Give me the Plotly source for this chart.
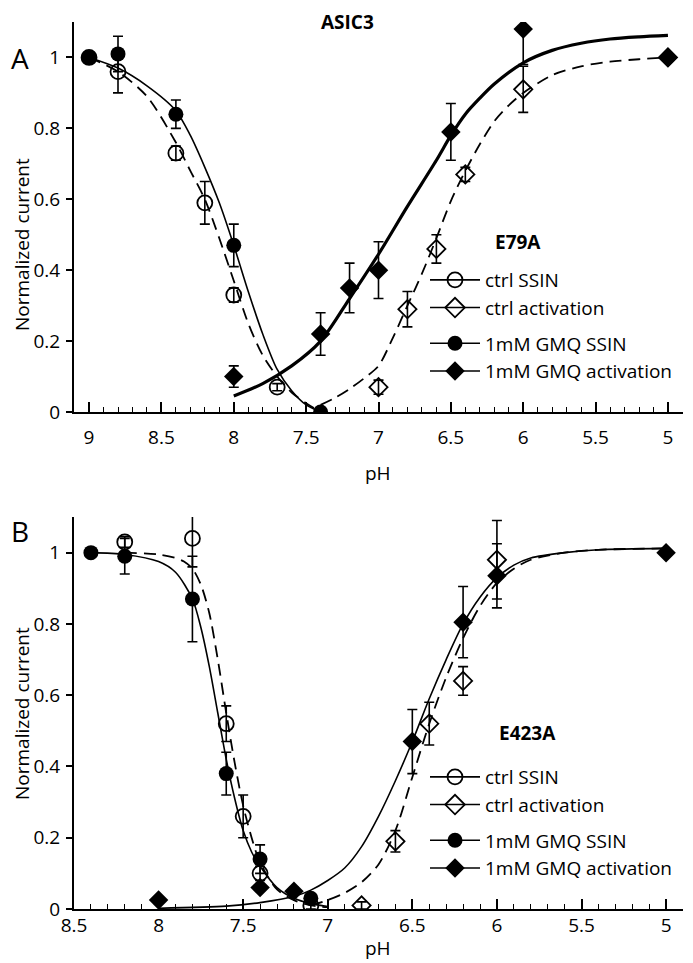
import plotly.graph_objects as go

# ---------------- Panel A : E79A ----------------
a_ctrl_ssin_ph = [9.0, 8.8, 8.4, 8.2, 8.0, 7.7]
a_ctrl_ssin_v = [1.0, 0.96, 0.73, 0.59, 0.33, 0.07]
a_ctrl_ssin_err = [0.0, 0.06, 0.02, 0.06, 0.02, 0.01]

a_ctrl_act_ph = [7.0, 6.8, 6.6, 6.4, 6.0, 5.0]
a_ctrl_act_v = [0.07, 0.29, 0.46, 0.67, 0.91, 1.0]
a_ctrl_act_err = [0.02, 0.05, 0.04, 0.02, 0.065, 0.0]

a_gmq_ssin_ph = [9.0, 8.8, 8.4, 8.0, 7.4]
a_gmq_ssin_v = [1.0, 1.01, 0.84, 0.47, 0.0]
a_gmq_ssin_err = [0.0, 0.05, 0.04, 0.06, 0.0]

a_gmq_act_ph = [8.0, 7.4, 7.2, 7.0, 6.5, 6.0, 5.0]
a_gmq_act_v = [0.10, 0.22, 0.35, 0.40, 0.79, 1.08, 1.0]
a_gmq_act_err = [0.03, 0.06, 0.07, 0.08, 0.08, 0.10, 0.0]

# fitted curves
a_fit_gmq_ssin_ph = [9.0, 8.8, 8.6, 8.4, 8.3, 8.2, 8.1, 8.0, 7.9, 7.8, 7.7, 7.6, 7.5, 7.4]
a_fit_gmq_ssin_v = [1.0, 0.97, 0.92, 0.85, 0.78, 0.69, 0.59, 0.47, 0.34, 0.22, 0.12, 0.06, 0.02, 0.0]

a_fit_ctrl_ssin_ph = [9.0, 8.8, 8.6, 8.4, 8.3, 8.2, 8.1, 8.0, 7.9, 7.8, 7.7, 7.6, 7.5, 7.4]
a_fit_ctrl_ssin_v = [1.0, 0.96, 0.89, 0.76, 0.68, 0.60, 0.49, 0.37, 0.25, 0.16, 0.10, 0.055, 0.025, 0.0]

a_fit_gmq_act_ph = [8.0, 7.8, 7.6, 7.4, 7.2, 7.0, 6.8, 6.6, 6.5, 6.4, 6.3, 6.2, 6.0, 5.8, 5.6, 5.4, 5.2, 5.0]
a_fit_gmq_act_v = [0.045, 0.08, 0.13, 0.2, 0.32, 0.445, 0.58, 0.71, 0.78, 0.84, 0.885, 0.925, 0.985, 1.02, 1.04, 1.052, 1.058, 1.062]

a_fit_ctrl_act_ph = [7.4, 7.3, 7.2, 7.1, 7.0, 6.9, 6.8, 6.7, 6.6, 6.5, 6.4, 6.3, 6.2, 6.1, 6.0, 5.8, 5.6, 5.4, 5.2, 5.0]
a_fit_ctrl_act_v = [0.02, 0.04, 0.065, 0.095, 0.13, 0.21, 0.30, 0.39, 0.49, 0.595, 0.68, 0.755, 0.82, 0.865, 0.90, 0.95, 0.975, 0.988, 0.995, 1.0]

# ---------------- Panel B : E423A ----------------
b_ctrl_ssin_ph = [8.2, 7.8, 7.6, 7.5, 7.4, 7.1]
b_ctrl_ssin_v = [1.03, 1.04, 0.52, 0.26, 0.10, 0.01]
b_ctrl_ssin_err = [0.015, 0.08, 0.05, 0.06, 0.02, 0.01]

b_ctrl_act_ph = [6.8, 6.6, 6.4, 6.2, 6.0]
b_ctrl_act_v = [0.01, 0.19, 0.52, 0.64, 0.98]
b_ctrl_act_err = [0.01, 0.03, 0.06, 0.04, 0.11]

b_gmq_ssin_ph = [8.4, 8.2, 7.8, 7.6, 7.4, 7.1]
b_gmq_ssin_v = [1.0, 0.99, 0.87, 0.38, 0.14, 0.03]
b_gmq_ssin_err = [0.0, 0.05, 0.12, 0.06, 0.04, 0.01]

b_gmq_act_ph = [8.0, 7.4, 7.2, 6.5, 6.2, 6.0, 5.0]
b_gmq_act_v = [0.025, 0.06, 0.05, 0.47, 0.805, 0.935, 1.0]
b_gmq_act_err = [0.0, 0.01, 0.01, 0.09, 0.10, 0.09, 0.0]

b_fit_gmq_ssin_ph = [8.4, 8.2, 8.0, 7.9, 7.8, 7.75, 7.7, 7.65, 7.6, 7.55, 7.5, 7.45, 7.4, 7.3, 7.2, 7.1, 7.0]
b_fit_gmq_ssin_v = [1.0, 0.995, 0.975, 0.945, 0.87, 0.79, 0.68, 0.55, 0.42, 0.31, 0.22, 0.16, 0.12, 0.06, 0.03, 0.015, 0.007]

b_fit_ctrl_ssin_ph = [8.2, 8.0, 7.9, 7.85, 7.8, 7.75, 7.7, 7.65, 7.6, 7.55, 7.5, 7.45, 7.4, 7.3, 7.2, 7.1, 7.0]
b_fit_ctrl_ssin_v = [1.0, 0.995, 0.985, 0.975, 0.955, 0.91, 0.83, 0.70, 0.55, 0.41, 0.29, 0.20, 0.13, 0.055, 0.025, 0.01, 0.005]

b_fit_gmq_act_ph = [8.0, 7.6, 7.4, 7.2, 7.1, 7.0, 6.9, 6.8, 6.7, 6.6, 6.5, 6.4, 6.3, 6.2, 6.1, 6.0, 5.9, 5.8, 5.6, 5.4, 5.0]
b_fit_gmq_act_v = [0.002, 0.008, 0.018, 0.035, 0.053, 0.08, 0.115, 0.175, 0.26, 0.36, 0.47, 0.59, 0.70, 0.80, 0.875, 0.93, 0.965, 0.985, 1.0, 1.008, 1.012]

b_fit_ctrl_act_ph = [7.1, 7.0, 6.9, 6.8, 6.7, 6.6, 6.5, 6.4, 6.3, 6.2, 6.1, 6.0, 5.9, 5.8, 5.6, 5.4, 5.0]
b_fit_ctrl_act_v = [0.01, 0.025, 0.045, 0.075, 0.125, 0.22, 0.37, 0.52, 0.65, 0.76, 0.85, 0.915, 0.955, 0.98, 1.0, 1.008, 1.012]

x_tick_vals = [9, 8.5, 8, 7.5, 7, 6.5, 6, 5.5, 5]
x_tick_text = ["9", "8.5", "8", "7.5", "7", "6.5", "6", "5.5", "5"]
y_tick_vals = [0, 0.2, 0.4, 0.6, 0.8, 1.0]
y_tick_text = ["0", "0.2", "0.4", "0.6", "0.8", "1"]

legend_names = ["ctrl SSIN", "ctrl activation", "1mM GMQ SSIN", "1mM GMQ activation"]

FONT = "Open Sans"
BLACK = "black"
DASH = "12px,7px"

fig = go.Figure()


def curve(x, y, xa, ya, width=1.5, dash="solid"):
    fig.add_trace(go.Scatter(x=x, y=y, xaxis=xa, yaxis=ya, mode="lines",
                             line=dict(color=BLACK, width=width, dash=dash, shape="spline", smoothing=0.8),
                             showlegend=False, hoverinfo="skip"))


def points(x, y, err, xa, ya, symbol, size=15):
    open_ = symbol.endswith("open")
    fig.add_trace(go.Scatter(
        x=x, y=y, xaxis=xa, yaxis=ya, mode="markers",
        marker=dict(symbol=symbol, size=size, color=BLACK,
                    line=dict(color=BLACK, width=1.8 if open_ else 0)),
        error_y=dict(type="data", array=err, visible=True, color=BLACK, thickness=1.6, width=5),
        showlegend=False))


# Panel A curves
curve(a_fit_ctrl_ssin_ph, a_fit_ctrl_ssin_v, "x", "y", 1.8, DASH)
curve(a_fit_ctrl_act_ph, a_fit_ctrl_act_v, "x", "y", 1.8, DASH)
curve(a_fit_gmq_ssin_ph, a_fit_gmq_ssin_v, "x", "y", 1.6)
curve(a_fit_gmq_act_ph, a_fit_gmq_act_v, "x", "y", 3.2)
# Panel A points
points(a_ctrl_ssin_ph, a_ctrl_ssin_v, a_ctrl_ssin_err, "x", "y", "circle-open")
points(a_ctrl_act_ph, a_ctrl_act_v, a_ctrl_act_err, "x", "y", "diamond-open", 14)
points(a_gmq_ssin_ph, a_gmq_ssin_v, a_gmq_ssin_err, "x", "y", "circle")
points(a_gmq_act_ph, a_gmq_act_v, a_gmq_act_err, "x", "y", "diamond", 15)

# Panel B curves
curve(b_fit_ctrl_ssin_ph, b_fit_ctrl_ssin_v, "x2", "y2", 1.8, DASH)
curve(b_fit_ctrl_act_ph, b_fit_ctrl_act_v, "x2", "y2", 1.8, DASH)
curve(b_fit_gmq_ssin_ph, b_fit_gmq_ssin_v, "x2", "y2", 1.6)
curve(b_fit_gmq_act_ph, b_fit_gmq_act_v, "x2", "y2", 1.6)
# Panel B points
points(b_ctrl_ssin_ph, b_ctrl_ssin_v, b_ctrl_ssin_err, "x2", "y2", "circle-open")
points(b_ctrl_act_ph, b_ctrl_act_v, b_ctrl_act_err, "x2", "y2", "diamond-open", 14)
points(b_gmq_ssin_ph, b_gmq_ssin_v, b_gmq_ssin_err, "x2", "y2", "circle")
points(b_gmq_act_ph, b_gmq_act_v, b_gmq_act_err, "x2", "y2", "diamond", 15)

# Legend entries (one legend per panel)
legend_symbols = ["circle-open", "diamond-open", "circle", "diamond"]
legend_groups = ["ctrl", "ctrl", "gmq", "gmq"]
for lg in ["legend", "legend2"]:
    for name, sym, grp in zip(legend_names, legend_symbols, legend_groups):
        open_ = sym.endswith("open")
        fig.add_trace(go.Scatter(
            x=[None], y=[None], mode="lines+markers", name=name, legend=lg, legendgroup=grp + lg,
            line=dict(color=BLACK, width=1.6),
            marker=dict(symbol=sym, size=15, color=BLACK,
                        line=dict(color=BLACK, width=1.8 if open_ else 0)),
            showlegend=True))

# layout geometry: page pixel coordinates (the page body adds an 8px offset)
OFF = 8
W, H = 693 - OFF, 963 - OFF
AX_L, AX_R, AX_BOT = 74, 683, 909
L = AX_L - OFF
R = W - (AX_R - OFF)
T = 22 - OFF
B = H - (AX_BOT - OFF)
PW, PH = W - L - R, H - T - B


def px_x(px):
    return (px - OFF - L) / PW


def px_y(py):
    return (H - B - (py - OFF)) / PH


xaxis_common = dict(
    tickvals=x_tick_vals, ticktext=x_tick_text, ticks="inside", ticklen=10, tickwidth=1.6,
    tickcolor=BLACK, showline=True, linewidth=2, linecolor=BLACK, showgrid=False, zeroline=False,
    tickfont=dict(family=FONT, size=19, color=BLACK),
    minor=dict(tickmode="linear", tick0=5, dtick=0.1, ticks="inside", ticklen=5, tickwidth=1.4,
               tickcolor=BLACK, showgrid=False),
)
yaxis_common = dict(
    range=[0, 1.1], tickvals=y_tick_vals, ticktext=y_tick_text, ticks="outside", ticklen=6,
    tickwidth=1.6, tickcolor=BLACK, showline=True, linewidth=2, linecolor=BLACK, showgrid=False,
    zeroline=False, tickfont=dict(family=FONT, size=19, color=BLACK), ticklabelstandoff=2,
)

legend_common = dict(xanchor="left", yanchor="top", font=dict(family=FONT, size=19, color=BLACK),
                     bgcolor="rgba(0,0,0,0)", tracegroupgap=8, traceorder="grouped", itemwidth=50)

fig.update_layout(
    width=W, height=H, margin=dict(l=L, r=R, t=T, b=B, autoexpand=False),
    paper_bgcolor="white", plot_bgcolor="white",
    font=dict(family=FONT, color=BLACK),
    xaxis=dict(domain=[0, 1], anchor="y", range=[9.104, 4.896], ticklabelstandoff=7, **xaxis_common),
    yaxis=dict(domain=[px_y(412), 1], anchor="x", **yaxis_common),
    xaxis2=dict(domain=[0, 1], anchor="y2", range=[8.5, 4.9], ticklabelstandoff=-2, **xaxis_common),
    yaxis2=dict(domain=[0, px_y(517)], anchor="x2", **yaxis_common),
    legend=dict(x=px_x(425), y=px_y(261), **legend_common),
    legend2=dict(x=px_x(425), y=px_y(758), **legend_common),
    showlegend=True,
)

ann = [
    dict(text="<b>ASIC3</b>", x=px_x(347), y=px_y(22), xanchor="center", yanchor="middle", size=19),
    dict(text="A", x=px_x(9), y=px_y(58), xanchor="left", yanchor="middle", size=28),
    dict(text="B", x=px_x(9), y=px_y(531), xanchor="left", yanchor="middle", size=28),
    dict(text="<b>E79A</b>", x=px_x(493), y=px_y(242), xanchor="left", yanchor="middle", size=19),
    dict(text="<b>E423A</b>", x=px_x(497), y=px_y(733), xanchor="left", yanchor="middle", size=19),
    dict(text="pH", x=px_x(378), y=px_y(473), xanchor="center", yanchor="middle", size=19),
    dict(text="pH", x=px_x(378), y=px_y(948), xanchor="center", yanchor="middle", size=19),
]
for a in ann:
    fig.add_annotation(text=a["text"], x=a["x"], y=a["y"], xref="paper", yref="paper",
                       xanchor=a["xanchor"], yanchor=a["yanchor"], showarrow=False,
                       font=dict(family=FONT, size=a["size"], color=BLACK))
for cy in [245, 714]:
    fig.add_annotation(text="Normalized current", x=px_x(22), y=px_y(cy), xref="paper", yref="paper",
                       xanchor="center", yanchor="middle", textangle=-90, showarrow=False,
                       font=dict(family=FONT, size=19, color=BLACK))

fig.write_html("out.html")
